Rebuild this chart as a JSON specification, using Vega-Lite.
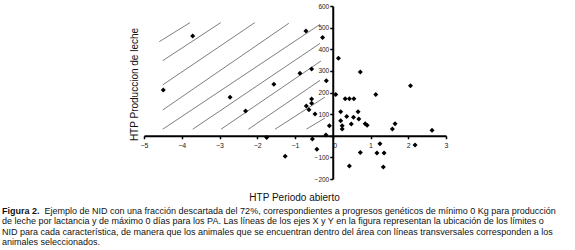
{
  "$schema": "https://vega.github.io/schema/vega-lite/v6.json",
  "width": 302,
  "height": 173,
  "autosize": {"type": "none"},
  "padding": {"left": 144, "top": 6, "right": 129, "bottom": 71},
  "background": "white",
  "config": {"view": {"stroke": null}, "font": "Liberation Sans"},
  "title": {
    "text": "Figura 2.",
    "subtitle": [
      "\u200b\u00a0\u00a0\u00a0\u00a0\u00a0\u00a0\u00a0\u00a0\u00a0\u00a0\u00a0\u00a0\u00a0\u00a0\u00a0\u00a0\u00a0Ejemplo de NID con una fracción descartada del 72%, correspondientes a progresos genéticos de mínimo 0 Kg para producción",
      "de leche por lactancia y de máximo 0 días para los PA. Las líneas de los ejes X y Y en la figura representan la ubicación de los límites o",
      "NID para cada característica, de manera que los animales que se encuentran dentro del área con líneas transversales corresponden a los",
      "animales seleccionados."
    ],
    "orient": "bottom",
    "anchor": "start",
    "frame": "group",
    "dx": -142,
    "offset": 4,
    "baseline": "top",
    "font": "Liberation Sans",
    "fontSize": 9,
    "fontWeight": "bold",
    "color": "#111",
    "subtitleFont": "Liberation Sans",
    "subtitleFontSize": 9,
    "subtitleColor": "#111",
    "subtitleLineHeight": 10.4,
    "subtitlePadding": -9
  },
  "datasets": {
    "hatch": [
      {"x": -4.595, "y": 435, "x2": -3.781, "y2": 523},
      {"x": -4.505, "y": 347, "x2": -2.968, "y2": 523},
      {"x": -4.505, "y": 235, "x2": -2.066, "y2": 523},
      {"x": -4.505, "y": 119, "x2": -1.165, "y2": 520},
      {"x": -4.505, "y": 30, "x2": -0.338, "y2": 515},
      {"x": -3.71, "y": 30, "x2": -0.338, "y2": 427},
      {"x": -2.96, "y": 30, "x2": -0.311, "y2": 346},
      {"x": -2.237, "y": 30, "x2": -0.338, "y2": 256},
      {"x": -1.53, "y": 30, "x2": -0.205, "y2": 179},
      {"x": -0.695, "y": 31, "x2": -0.205, "y2": 82}
    ],
    "pts": [
      {"x": -4.49, "y": 212}, {"x": -3.71, "y": 461}, {"x": -2.72, "y": 178},
      {"x": -2.31, "y": 114}, {"x": -1.56, "y": 238}, {"x": -1.75, "y": -8},
      {"x": -1.26, "y": -95}, {"x": -0.87, "y": 289}, {"x": -0.71, "y": 484},
      {"x": -0.27, "y": 454}, {"x": -0.56, "y": 309}, {"x": -0.17, "y": 254},
      {"x": -0.56, "y": 170}, {"x": -0.56, "y": 150}, {"x": -0.70, "y": 138},
      {"x": -0.63, "y": 120}, {"x": -0.47, "y": 101}, {"x": -0.09, "y": 46},
      {"x": -0.18, "y": 4}, {"x": -0.54, "y": -15}, {"x": -0.42, "y": -62},
      {"x": 0.15, "y": 358}, {"x": 0.73, "y": 295}, {"x": 0.08, "y": 191},
      {"x": 0.33, "y": 171}, {"x": 0.44, "y": 171}, {"x": 0.56, "y": 171},
      {"x": 1.14, "y": 191}, {"x": 2.06, "y": 231}, {"x": 0.21, "y": 111},
      {"x": 0.67, "y": 111}, {"x": 0.37, "y": 89}, {"x": 0.55, "y": 86},
      {"x": 0.21, "y": 69}, {"x": 0.69, "y": 78}, {"x": 0.25, "y": 46},
      {"x": 0.25, "y": 31}, {"x": 0.49, "y": 54}, {"x": 0.86, "y": 55},
      {"x": 0.91, "y": 48}, {"x": 1.65, "y": 55}, {"x": 1.58, "y": 31},
      {"x": 2.63, "y": 25}, {"x": 0.73, "y": -77}, {"x": 1.17, "y": -80},
      {"x": 1.36, "y": -80}, {"x": 1.25, "y": -37}, {"x": 2.18, "y": -43},
      {"x": 0.44, "y": -140}, {"x": 1.34, "y": -145}
    ]
  },
  "encoding": {
    "x": {
      "field": "x",
      "type": "quantitative",
      "scale": {"domain": [-5, 3], "nice": false, "zero": false},
      "axis": {
        "title": "HTP Periodo abierto",
        "values": [-5, -4, -3, -2, -1, 0, 1, 2, 3],
        "offset": -43.25,
        "grid": false,
        "zindex": 1,
        "domainColor": "black",
        "domainWidth": 2,
        "tickColor": "black",
        "tickWidth": 1.5,
        "tickSize": 3,
        "labelFont": "Liberation Sans",
        "labelFontSize": 7,
        "labelColor": "#222",
        "labelPadding": 3,
        "labelFlush": false,
        "labelOverlap": false,
        "labelAlign": {"condition": {"test": "datum.value == 0", "value": "left"}, "value": "center"},
        "titleFont": "Liberation Sans",
        "titleFontSize": 10,
        "titleFontWeight": "normal",
        "titleColor": "#111",
        "titleX": 150,
        "titleY": 65,
        "titleAlign": "center",
        "titleBaseline": "alphabetic"
      }
    },
    "y": {
      "field": "y",
      "type": "quantitative",
      "scale": {"domain": [-200, 600], "nice": false, "zero": false},
      "axis": {
        "title": "HTP Produccion de leche",
        "values": [-200, -100, 0, 100, 200, 300, 400, 500, 600],
        "offset": -188.75,
        "grid": false,
        "zindex": 1,
        "domainColor": "black",
        "domainWidth": 2,
        "tickColor": "black",
        "tickWidth": 1.5,
        "tickSize": 3,
        "labelFont": "Liberation Sans",
        "labelFontSize": 6.5,
        "labelColor": "#222",
        "labelPadding": 1,
        "labelFlush": false,
        "labelOverlap": false,
        "labelExpr": "datum.value == 0 ? '' : datum.label",
        "titleFont": "Liberation Sans",
        "titleFontSize": 10,
        "titleFontWeight": "normal",
        "titleColor": "#111",
        "titleX": -195,
        "titleY": 78,
        "titleAngle": -90,
        "titleAlign": "center",
        "titleBaseline": "alphabetic"
      }
    }
  },
  "layer": [
    {
      "data": {"name": "hatch"},
      "mark": {"type": "rule", "color": "#6f6f6f", "strokeWidth": 0.9},
      "encoding": {"x2": {"field": "x2"}, "y2": {"field": "y2"}}
    },
    {
      "data": {"name": "pts"},
      "mark": {"type": "point", "shape": "diamond", "filled": true, "color": "black", "size": 25, "opacity": 1}
    }
  ]
}
